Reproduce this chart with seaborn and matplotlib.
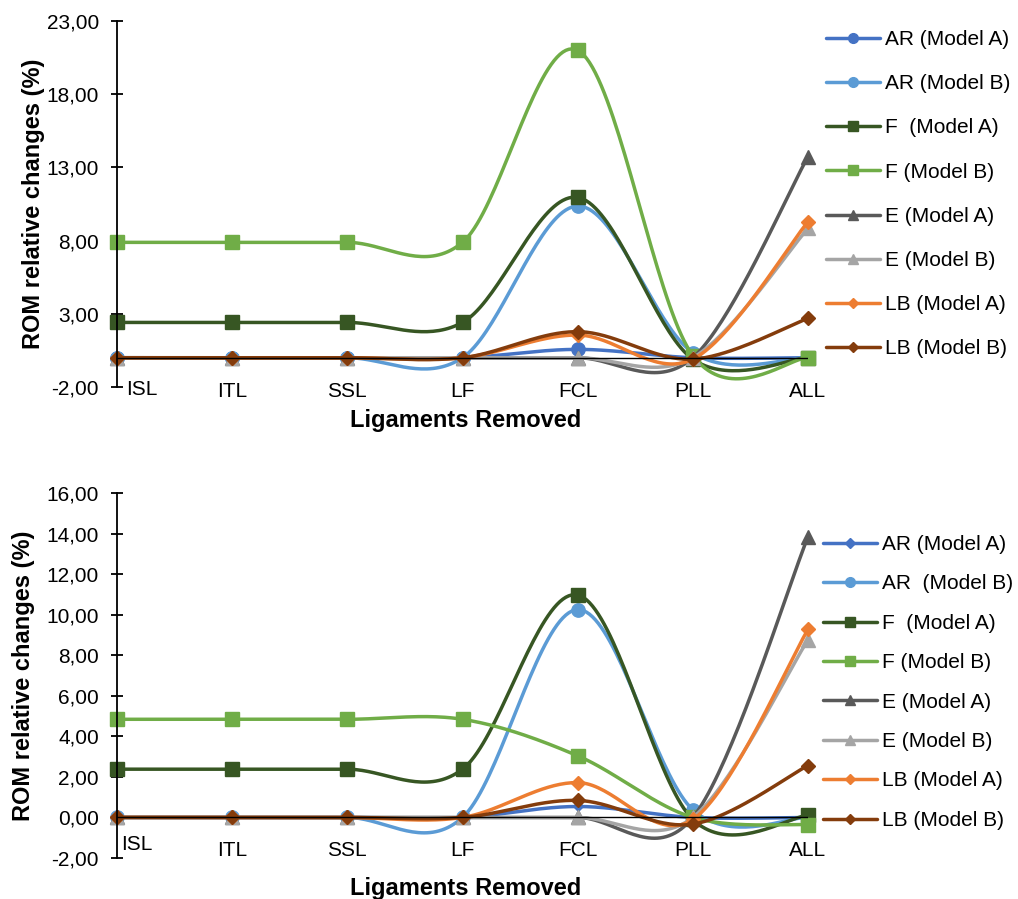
import matplotlib
matplotlib.use("Agg")
import matplotlib.pyplot as plt
import matplotlib.ticker as ticker
from matplotlib.lines import Line2D
from matplotlib.transforms import ScaledTranslation
import seaborn as sns
import numpy as np

sns.set_style("white")
plt.rcParams['font.family'] = ['Liberation Sans', 'DejaVu Sans']
plt.rcParams['text.color'] = 'black'
plt.rcParams['axes.labelcolor'] = 'black'

# Dados
categorias = ['ISL', 'ITL', 'SSL', 'LF', 'FCL', 'PLL', 'ALL']

series_nomes_topo = ['AR (Model A)', 'AR (Model B)', 'F  (Model A)', 'F (Model B)',
                     'E (Model A)', 'E (Model B)', 'LB (Model A)', 'LB (Model B)']
series_nomes_base = ['AR (Model A)', 'AR  (Model B)', 'F  (Model A)', 'F (Model B)',
                     'E (Model A)', 'E (Model B)', 'LB (Model A)', 'LB (Model B)']

ar_a_topo = [0, 0, 0, 0, 0.57, 0, 0]
ar_b_topo = [0, 0, 0, 0, 10.36, 0.35, 0]
f_a_topo = [2.41, 2.41, 2.41, 2.41, 10.95, -0.1, 0]
f_b_topo = [7.88, 7.88, 7.88, 7.88, 21.0, 0.15, 0]
e_a_topo = [0, 0, 0, 0, 0, 0, 13.73]
e_b_topo = [0, 0, 0, 0, 0, 0, 8.84]
lb_a_topo = [0, 0, 0, 0, 1.55, -0.1, 9.29]
lb_b_topo = [0, 0, 0, 0, 1.78, -0.1, 2.69]

ar_a_base = [0, 0, 0, 0, 0.54, 0, 0]
ar_b_base = [0, 0, 0, 0, 10.25, 0.38, 0]
f_a_base = [2.38, 2.38, 2.38, 2.38, 10.97, -0.1, 0.1]
f_b_base = [4.84, 4.84, 4.84, 4.84, 3.04, 0.0, -0.36]
e_a_base = [0, 0, 0, 0, 0, 0, 13.84]
e_b_base = [0, 0, 0, 0, 0, 0, 8.76]
lb_a_base = [0, 0, 0, 0, 1.72, -0.1, 9.27]
lb_b_base = [0, 0, 0, 0, 0.84, -0.33, 2.56]

cores = ['#4472C4', '#5B9BD5', '#375623', '#70AD47',
         '#595959', '#A5A5A5', '#ED7D31', '#843C0C']
marcadores_topo = ['o', 'o', 's', 's', '^', '^', 'D', 'D']
marcadores_base = ['D', 'o', 's', 's', '^', '^', 'D', 'D']
tamanhos = {'o': 9.6, 's': 10.2, '^': 10.2, 'D': 7.4}


def curva_suave(xs, ys, n=40):
    """Curva suavizada no estilo do Excel (Bezier / Catmull-Rom)."""
    pts = np.column_stack([xs, ys]).astype(float)
    partes = []
    for i in range(len(pts) - 1):
        p0, p3 = pts[i], pts[i + 1]
        ant = pts[i - 1] if i > 0 else pts[i]
        prox = pts[i + 2] if i + 2 < len(pts) else pts[i + 1]
        c1 = p0 + (p3 - ant) / 6
        c2 = p3 - (prox - p0) / 6
        t = np.linspace(0, 1, n)[:, None]
        seg = (1 - t) ** 3 * p0 + 3 * (1 - t) ** 2 * t * c1 + 3 * (1 - t) * t ** 2 * c2 + t ** 3 * p3
        partes.append(seg if i == 0 else seg[1:])
    return np.vstack(partes)


def plot_painel(ax, dados, nomes, marcadores, ylim, passo, pad_x, desloc_isl,
                ylabel_x, leg_anchor, leg_spacing):
    x = np.arange(len(categorias))
    handles = []
    for k, (vals, nome, cor, m) in enumerate(zip(dados, nomes, cores, marcadores)):
        curva = curva_suave(x, vals)
        sns.lineplot(x=curva[:, 0], y=curva[:, 1], ax=ax, color=cor, lw=2.5,
                     sort=False, estimator=None, zorder=3 + k)
        ms = tamanhos[m] if not (m == 'D' and k == 0) else 5.5
        ax.plot(x, vals, ls='none', marker=m, ms=ms,
                color=cor, mec=cor, clip_on=False, zorder=3 + k)
        handles.append(Line2D([], [], color=cor, lw=2.5, marker=m,
                              ms=7 if m != 'D' else 5.5, mec=cor))

    ax.axhline(0, color='black', lw=1.0, zorder=20)
    ax.set_xlim(0, 6)
    ax.set_ylim(*ylim)
    ax.set_yticks(np.arange(ylim[0], ylim[1] + 0.01, passo))
    ax.yaxis.set_major_formatter(ticker.FuncFormatter(lambda v, _: f'{v:.2f}'.replace('.', ',')))
    ax.set_xticks(x)
    ax.set_xticklabels(categorias)

    for lado in ['top', 'right', 'bottom']:
        ax.spines[lado].set_visible(False)
    ax.spines['left'].set_color('black')
    ax.spines['left'].set_linewidth(1.3)
    ax.spines['left'].set_zorder(25)

    ax.tick_params(axis='y', direction='inout', length=9, width=1.3, pad=8.5,
                   labelsize=15, colors='black', left=True)
    ax.tick_params(axis='x', length=0, pad=pad_x, labelsize=15, colors='black')

    isl = ax.get_xticklabels()[0]
    isl.set_transform(isl.get_transform() +
                      ScaledTranslation(desloc_isl[0] / 100, desloc_isl[1] / 100,
                                        ax.figure.dpi_scale_trans))

    ax.set_xlabel('Ligaments Removed', fontsize=17, fontweight='bold', color='black')
    ax.set_ylabel('ROM relative changes (%)', fontsize=17, fontweight='bold', color='black')
    ax.yaxis.set_label_coords(ylabel_x, 0.5)
    ax.grid(False)

    leg = ax.legend(handles=handles, labels=nomes, loc='upper left',
                    bbox_to_anchor=leg_anchor, bbox_transform=ax.figure.transFigure,
                    frameon=False, fontsize=15, handlelength=2.6, handletextpad=0.25,
                    labelspacing=leg_spacing, borderpad=0, borderaxespad=0)
    for txt in leg.get_texts():
        txt.set_color('black')


fig = plt.figure(figsize=(10.18, 8.99), dpi=100)
ax1 = fig.add_axes([117 / 1018, 1 - 387 / 899, 691 / 1018, 366 / 899])
ax2 = fig.add_axes([117 / 1018, 1 - 858 / 899, 691 / 1018, 365 / 899])

plot_painel(ax1,
            [ar_a_topo, ar_b_topo, f_a_topo, f_b_topo, e_a_topo, e_b_topo, lb_a_topo, lb_b_topo],
            series_nomes_topo, marcadores_topo, (-2, 23), 5, -3.5, (25, 2), -0.104,
            (826 / 1018, 1 - 30 / 899), 1.21)
ax1.xaxis.set_label_coords(0.505, -0.059)

plot_painel(ax2,
            [ar_a_base, ar_b_base, f_a_base, f_b_base, e_a_base, e_b_base, lb_a_base, lb_b_base],
            series_nomes_base, marcadores_base, (-2, 16), 2, -12.5, (20, 6), -0.119,
            (823 / 1018, 1 - 535 / 899), 0.98)
ax2.xaxis.set_label_coords(0.505, -0.052)

plt.savefig('out.png', dpi=100)
plt.close()
